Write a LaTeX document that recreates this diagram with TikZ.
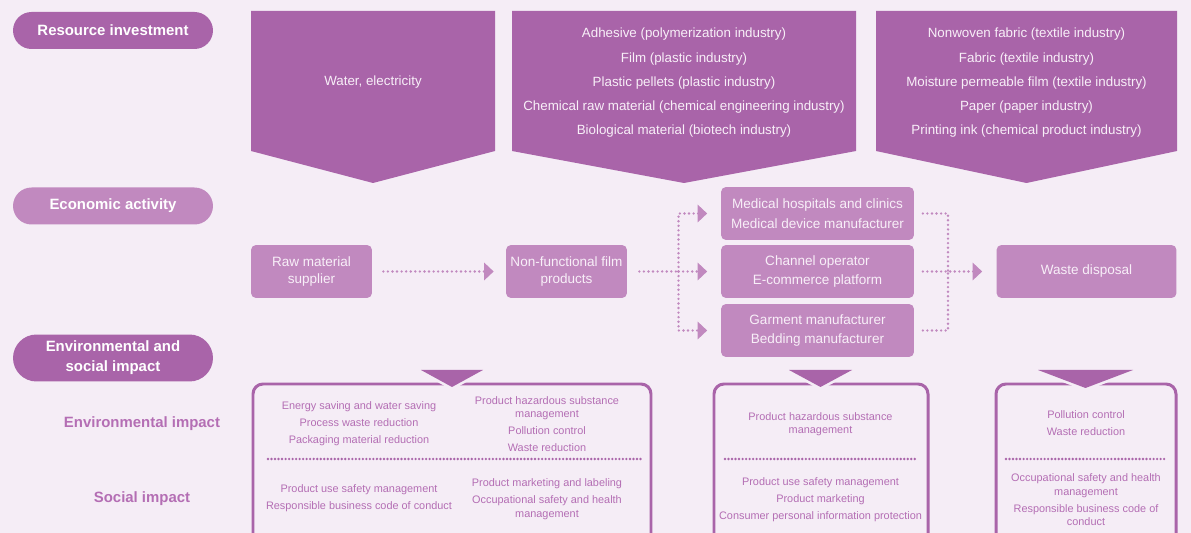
\documentclass[tikz,border=0pt]{standalone}
\usepackage{fontspec}
\setmainfont{Liberation Sans}
\usetikzlibrary{arrows.meta}
\definecolor{bgpink}{HTML}{F5EDF6}
\definecolor{plum}{HTML}{A964A9}
\definecolor{orchid}{HTML}{C189BF}
\definecolor{paletext}{HTML}{F8EFF8}
\definecolor{impacttext}{HTML}{B46EB4}

\begin{document}
\begin{tikzpicture}[x=0.02cm, y=-0.02cm,
    pill/.style={rounded corners=0.37cm, minimum width=4cm, minimum height=0.74cm,
      text=white, align=center, inner sep=0pt,
      font=\fontsize{8.5}{11.3}\selectfont\bfseries},
    stage/.style={fill=orchid, rounded corners=0.1cm, minimum height=1.06cm,
      text=paletext, align=center, inner sep=0pt, font=\fontsize{7.7}{11.3}\selectfont},
    supply/.style={text=paletext, align=center, font=\fontsize{7.6}{13.8}\selectfont},
    impact/.style={text=impacttext, align=center, inner sep=0pt, font=\fontsize{6.2}{7.7}\selectfont},
    rowhead/.style={text=impacttext, font=\fontsize{8.5}{11}\selectfont\bfseries},
    flow/.style={orchid, line width=1.5pt, dash pattern=on 0pt off 2.6pt, line cap=round},
    tip/.style={-{Triangle[length=5.4pt, width=9.8pt]}},
    rule/.style={plum, line width=1.5pt, dash pattern=on 0pt off 2pt, line cap=round},
    panel/.style={plum, line width=1.7pt, rounded corners=0.2cm},
    notch/.style={fill=plum, preaction={draw=bgpink, line width=3pt}}]
    \clip (0,0) rectangle (1191,533);
    \fill[bgpink] (0,0) rectangle (1191,533);

    % row headings
    \node[pill, fill=plum] (resource) at (113,30.5) {Resource investment};
    \node[pill, fill=orchid] (economic) at (113,206) {Economic activity};
    \node[pill, fill=plum, minimum height=0.94cm, rounded corners=0.47cm] (envsoc) at (113,358)
      {Environmental and\\social impact};
    \node[rowhead] (envhead) at (142,423.5) {Environmental impact};
    \node[rowhead] (sochead) at (142,498.5) {Social impact};

    % resource inputs
    \fill[plum] (251,11) -- (495,11) -- (495,151) -- (373,183) -- (251,151) -- cycle;
    \fill[plum] (512,11) -- (856,11) -- (856,151) -- (684,183) -- (512,151) -- cycle;
    \fill[plum] (876,11) -- (1177,11) -- (1177,151) -- (1026.5,183) -- (876,151) -- cycle;
    \node[supply] (utility) at (373,82) {Water, electricity};
    \node[supply] (material) at (684,83) {Adhesive (polymerization industry)\\
      Film (plastic industry)\\Plastic pellets (plastic industry)\\
      Chemical raw material (chemical engineering industry)\\
      Biological material (biotech industry)};
    \node[supply] (textile) at (1026.5,83) {Nonwoven fabric (textile industry)\\
      Fabric (textile industry)\\Moisture permeable film (textile industry)\\
      Paper (paper industry)\\Printing ink (chemical product industry)};

    % value chain
    \node[stage, minimum width=2.42cm, font=\fontsize{7.7}{9.6}\selectfont] (raw) at (311.5,271.5)
      {Raw material\\supplier};
    \node[stage, minimum width=2.42cm, font=\fontsize{7.7}{9.6}\selectfont] (film) at (566.5,271.5)
      {Non-functional film\\products};
    \node[stage, minimum width=3.86cm] (medical) at (817.5,213.5)
      {Medical hospitals and clinics\\Medical device manufacturer};
    \node[stage, minimum width=3.86cm] (channel) at (817.5,271.5)
      {Channel operator\\E-commerce platform};
    \node[stage, minimum width=3.86cm] (garment) at (817.5,330.5)
      {Garment manufacturer\\Bedding manufacturer};
    \node[stage, minimum width=3.6cm] (waste) at (1086.5,271.5) {Waste disposal};
    \coordinate (split) at (678.5,271.5);
    \coordinate (merge) at (948,271.5);

    \draw[flow, tip, shorten <=0.22cm, shorten >=0.24cm] (raw.east) -- (film.west);
    \draw[flow, shorten <=0.24cm] (film.east) -- (split);
    \draw[flow, tip, shorten >=0.27cm] (split) |- (medical.west);
    \draw[flow, tip, shorten >=0.27cm] (split) -- (channel.west);
    \draw[flow, tip, shorten >=0.27cm] (split) |- (garment.west);
    \draw[flow, shorten <=0.17cm] (medical.east) -| (merge);
    \draw[flow, shorten <=0.17cm] (garment.east) -| (merge);
    \draw[flow, tip, shorten <=0.17cm, shorten >=0.28cm] (channel.east) -- (waste.west);

    % impact panels
    \draw[panel] (253,384) rectangle (651,560);
    \draw[panel] (714,384) rectangle (928,560);
    \draw[panel] (996,384) rectangle (1176,560);
    \fill[notch] (421,370) -- (483,370) -- (452,387) -- cycle;
    \fill[notch] (789,370) -- (852,370) -- (820.5,387) -- cycle;
    \fill[notch] (1038,370) -- (1133,370) -- (1085.5,388) -- cycle;
    \draw[rule] (268,459) -- (641,459);
    \draw[rule] (725,459) -- (917,459);
    \draw[rule] (1006,459) -- (1167,459);

    \node[impact] (supplierenv) at (359,424) {Energy saving and water saving\\[1.9pt]
      Process waste reduction\\[1.9pt]Packaging material reduction};
    \node[impact] (filmenv) at (547,424) {Product hazardous substance\\management\\[1.9pt]
      Pollution control\\[1.9pt]Waste reduction};
    \node[impact] (suppliersoc) at (359,498.5) {Product use safety management\\[1.9pt]
      Responsible business code of conduct};
    \node[impact] (filmsoc) at (547,499) {Product marketing and labeling\\[1.9pt]
      Occupational safety and health\\management};
    \node[impact] (userenv) at (820.5,424) {Product hazardous substance\\management};
    \node[impact] (usersoc) at (820.5,500) {Product use safety management\\[1.9pt]
      Product marketing\\[1.9pt]Consumer personal information protection};
    \node[impact] (wasteenv) at (1086,423.5) {Pollution control\\[1.9pt]Waste reduction};
    \node[impact] (wastesoc) at (1086,500) {Occupational safety and health\\management\\[1.9pt]
      Responsible business code of\\conduct};
\end{tikzpicture}
\end{document}
